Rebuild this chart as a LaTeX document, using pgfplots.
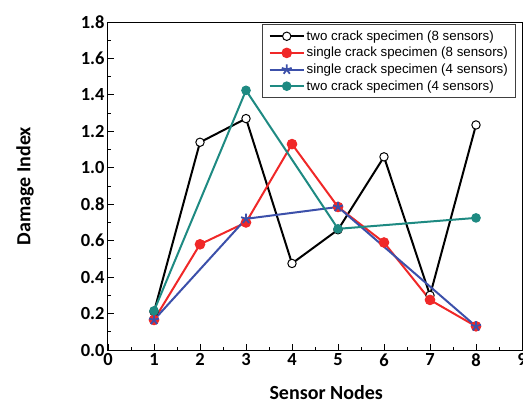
\documentclass[border=0pt]{standalone}
\usepackage{pgfplots}
\pgfplotsset{compat=1.18}
\usepackage{fontspec}
\setmainfont{Carlito}
\newfontfamily\legfont{Liberation Sans}
\definecolor{cred}{RGB}{240,40,40}
\definecolor{cblue}{RGB}{60,80,170}
\definecolor{cteal}{RGB}{30,138,130}
\begin{document}
\begin{tikzpicture}
\begin{axis}[name=ax, scale only axis, width=414pt, height=328pt,
  xmin=0, xmax=9, ymin=0, ymax=1.8,
  xtick={0,1,...,9}, ytick={0,0.2,0.4,0.6,0.8,1.0,1.2,1.4,1.6,1.8},
  minor x tick num=1, minor y tick num=1,
  tick align=inside, xtick pos=bottom, ytick pos=left,
  major tick length=6pt, minor tick length=3pt,
  tick style={line width=0.8pt, black},
  axis line style={line width=1pt},
  yticklabel style={/pgf/number format/.cd, fixed, fixed zerofill, precision=1},
  xticklabel style={/pgf/number format/.cd, fixed, precision=0},
  ticklabel style={font=\fontsize{18.5}{20}\selectfont\bfseries},
  /pgf/number format/assume math mode=true,
  xlabel={Sensor Nodes}, ylabel={Damage Index},
  label style={font=\fontsize{20}{22}\selectfont\bfseries},
  xlabel style={at={(axis description cs:0.527,-0.131)}, anchor=center},
  ylabel style={at={(axis description cs:-0.2005,0.5)}, anchor=center},
  legend style={at={(0.986,0.993)}, anchor=north east,
    font=\legfont\fontsize{13.3}{15}\selectfont, draw=black!75, line width=0.8pt,
    row sep=1.5pt, inner xsep=6pt, inner ysep=4pt},
  legend cell align=left,
  legend image code/.code={\draw[mark repeat=2,mark phase=2] plot coordinates {(0pt,0pt)(17pt,0pt)(34pt,0pt)};},
]
\addplot[black, line width=2pt, mark=*, mark size=4.2pt, mark options={fill=white, draw=black, line width=1pt}]
  coordinates {(1,0.21)(2,1.14)(3,1.27)(4,0.475)(5,0.66)(6,1.06)(7,0.30)(8,1.235)};
\addlegendentry{two crack specimen (8 sensors)}
\addplot[cred, line width=2pt, mark=*, mark size=4.8pt, mark options={fill=cred, draw=cred, line width=1pt}]
  coordinates {(1,0.165)(2,0.58)(3,0.70)(4,1.13)(5,0.785)(6,0.59)(7,0.275)(8,0.13)};
\addlegendentry{single crack specimen (8 sensors)}
\addplot[cblue, line width=2pt, mark=star, mark size=5.2pt, mark options={fill=cblue, draw=cblue, line width=1.8pt}]
  coordinates {(1,0.165)(3,0.72)(5,0.785)(8,0.13)};
\addlegendentry{single crack specimen (4 sensors)}
\addplot[cteal, line width=2pt, mark=*, mark size=4.3pt, mark options={fill=cteal, draw=cteal, line width=1pt}]
  coordinates {(1,0.215)(3,1.425)(5,0.665)(8,0.725)};
\addlegendentry{two crack specimen (4 sensors)}
\end{axis}
\pgfresetboundingbox
\path[use as bounding box] ([xshift=-108pt,yshift=-55pt]ax.south west) rectangle ([xshift=1pt,yshift=22pt]ax.north east);
\end{tikzpicture}
\end{document}
